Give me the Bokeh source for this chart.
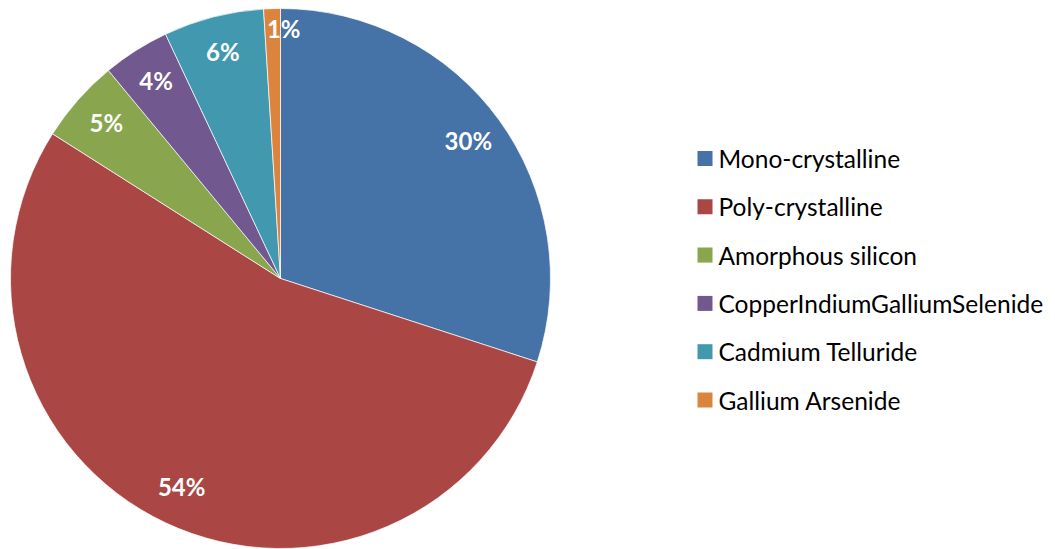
import math
from bokeh.plotting import figure
from bokeh.models import ColumnDataSource, Range1d
from bokeh.core.properties import value
from bokeh.embed import file_html
from bokeh.resources import INLINE

categories = ["Mono-crystalline", "Poly-crystalline", "Amorphous silicon",
              "CopperIndiumGalliumSelenide", "Cadmium Telluride", "Gallium Arsenide"]
shares = [30, 54, 5, 4, 6, 1]
colors = ["#4572A7", "#AA4643", "#89A54E", "#71588F", "#4198AF", "#DB843D"]

W, H = 1055, 549
cx, cy, R = 280, 271, 270
label_font = "Lato"

total = float(sum(shares))
starts, ends, lx, ly, lxo, labels = [], [], [], [], [], []
cum = 0.0
for s in shares:
    c0 = cum / total
    c1 = (cum + s) / total
    cum += s
    a0 = math.pi / 2 - 2 * math.pi * c0
    a1 = math.pi / 2 - 2 * math.pi * c1
    starts.append(a1)
    ends.append(a0)
    mid = (a0 + a1) / 2
    small = s / total < 0.02
    rf = 0.92 if small else 0.86
    lx.append(cx + rf * R * math.cos(mid))
    ly.append(cy + rf * R * math.sin(mid))
    lxo.append(11 if small else 0)
    labels.append(f"{s}%")

src = ColumnDataSource(dict(start=starts, end=ends, color=colors, lx=lx, ly=ly,
                            lxo=lxo, label=labels, cat=categories))

p = figure(width=W, height=H, x_range=Range1d(0, W), y_range=Range1d(0, H),
           output_backend="svg", toolbar_location=None, min_border=0)
p.axis.visible = False
p.grid.visible = False
p.outline_line_color = None
p.background_fill_color = "white"

p.wedge(x=cx, y=cy, radius=R, start_angle="start", end_angle="end",
        fill_color="color", line_color="white", line_width=1, line_alpha=0.7,
        source=src)

p.text(x="lx", y="ly", text="label", x_offset="lxo", y_offset=-2, text_align="center",
       text_baseline="middle", text_color="white", text_font=value(label_font),
       text_font_style="bold", text_font_size="24px", source=src)

# legend
leg_top = 391
leg_step = 48.3
leg_y = [leg_top - i * leg_step for i in range(len(categories))]
leg_src = ColumnDataSource(dict(y=leg_y, color=colors, cat=categories))
p.scatter(x=704.5, y="y", marker="square", size=15, fill_color="color",
          line_color=None, source=leg_src)
p.text(x=718, y="y", text="cat", text_align="left", text_baseline="middle",
       text_color="black", text_font=value(label_font), text_font_size="24.5px",
       source=leg_src)

open("out.html", "w").write(file_html(p, INLINE))
